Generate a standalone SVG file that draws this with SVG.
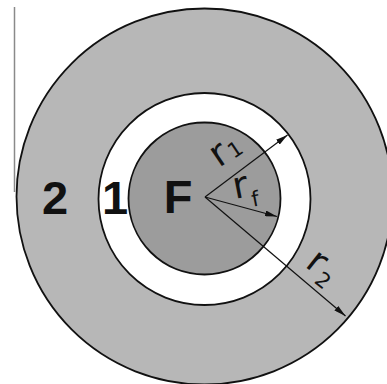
<svg xmlns="http://www.w3.org/2000/svg" width="387" height="384" viewBox="0 0 387 384">
<style>
.ring{stroke:#111;stroke-width:1.8}
.big{font-family:"Liberation Sans",Arial,sans-serif;font-weight:bold;font-size:47px;fill:#111;text-anchor:middle}
.lab{font-family:"DejaVu Sans",sans-serif;font-size:37px;fill:#111}
.sub{font-size:21px}
.arr{stroke:#111;stroke-width:1.2;fill:none;marker-end:url(#ah)}
</style>
<defs>
<marker id="ah" viewBox="0 0 12 6" refX="12" refY="3" markerWidth="12" markerHeight="6" markerUnits="userSpaceOnUse" orient="auto">
<path d="M0,0 L12,3 L0,6 Z" fill="#111"/>
</marker>
</defs>
<rect width="387" height="384" fill="#fff"/>
<line x1="14.5" y1="7" x2="14.5" y2="192" stroke="#8a8a8a" stroke-width="1.5"/>
<g id="layer2">
<circle cx="204.5" cy="196.5" r="188" fill="#b7b7b7" class="ring"/>
<text class="big" x="55" y="214">2</text>
</g>
<g id="layer1">
<circle cx="204.5" cy="199" r="106" fill="#fff" class="ring"/>
<text class="big" x="115" y="214">1</text>
</g>
<g id="fuel">
<circle cx="204.5" cy="198.5" r="76" fill="#9c9c9c" class="ring"/>
<text class="big" x="178" y="213">F</text>
</g>
<g id="connectors">
<line class="arr" x1="205" y1="197" x2="287.5" y2="135"/>
<line class="arr" x1="205" y1="197" x2="277" y2="216.5"/>
<line class="arr" x1="205" y1="197" x2="345.5" y2="316"/>
</g>
<g id="labels">
<text class="lab" transform="translate(219,168) rotate(-34)">r<tspan class="sub" dx="2" dy="1">1</tspan></text>
<text class="lab" transform="translate(235,199) rotate(-11)">r<tspan class="sub" dx="1" dy="11">f</tspan></text>
<text class="lab" transform="translate(304,266) rotate(38)">r<tspan class="sub" dx="2" dy="7">2</tspan></text>
</g>
</svg>
